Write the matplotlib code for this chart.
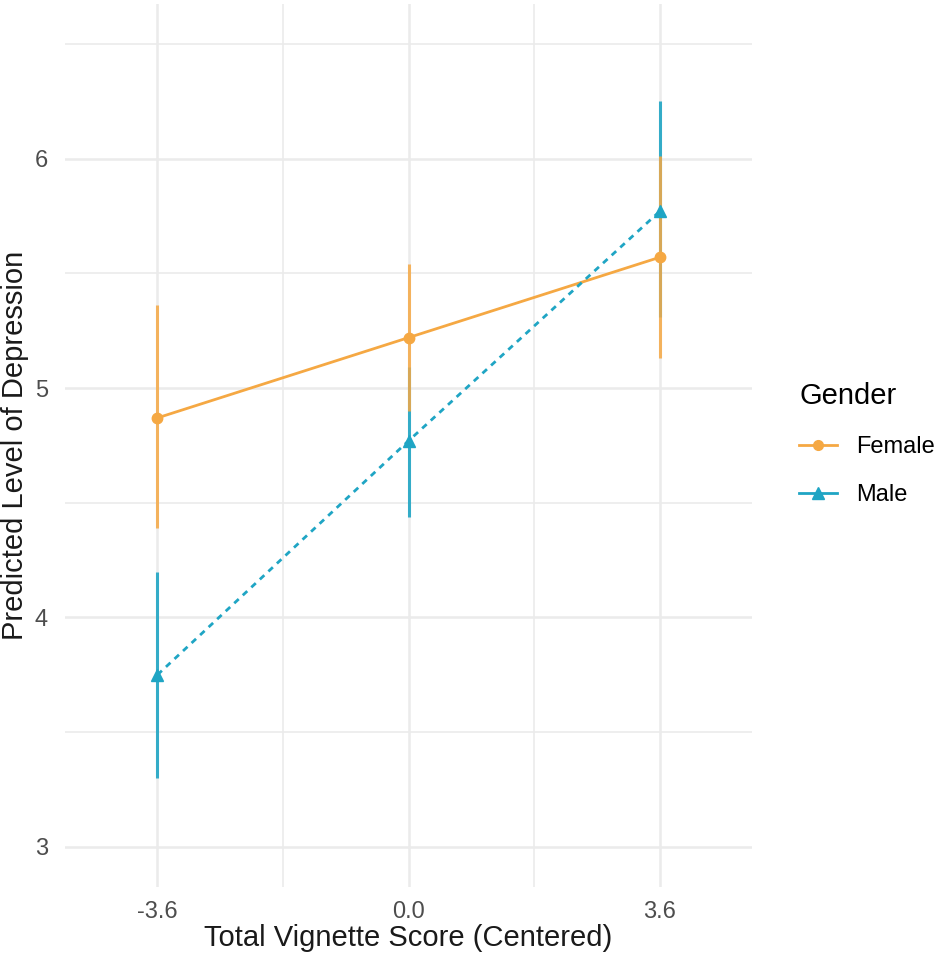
import numpy as np
import matplotlib.pyplot as plt
from matplotlib.lines import Line2D

plt.rcParams['font.family'] = ['Liberation Sans', 'DejaVu Sans']

# data
vignette = [-3.6, 0.0, 3.6]
female_fit = [4.87, 5.22, 5.57]
female_lo = [4.39, 4.90, 5.13]
female_hi = [5.36, 5.54, 6.01]
male_fit = [3.75, 4.77, 5.77]
male_lo = [3.30, 4.44, 5.31]
male_hi = [4.20, 5.09, 6.25]

x_ticks = [-3.6, 0.0, 3.6]
x_tick_labels = ['-3.6', '0.0', '3.6']
y_ticks = [3, 4, 5, 6]

col_f = '#F5A843'
col_m = '#1FA5C4'
grid_col = '#EBEBEB'

fig = plt.figure(figsize=(9.37, 9.61), dpi=100)
ax = fig.add_axes([0.069, 0.077, 0.734, 0.919])

ax.set_xlim(-4.93, 4.93)
ax.set_ylim(2.825, 6.675)

# grid (ggplot minimal style)
for y in y_ticks:
    ax.axhline(y, color=grid_col, lw=1.8, zorder=0)
for y in [3.5, 4.5, 5.5, 6.5]:
    ax.axhline(y, color=grid_col, lw=1.2, zorder=0)
for x in x_ticks:
    ax.axvline(x, color=grid_col, lw=1.8, zorder=0)
for x in [-1.8, 1.8]:
    ax.axvline(x, color=grid_col, lw=1.2, zorder=0)

ax.vlines(vignette, male_lo, male_hi, color=col_m, lw=2.2, alpha=0.9, zorder=2)
ax.vlines(vignette, female_lo, female_hi, color=col_f, lw=2.2, alpha=0.85, zorder=2)
ax.plot(vignette, female_fit, color=col_f, lw=2.0, marker='o', ms=7.5, zorder=3)
ax.plot(vignette, male_fit, color=col_m, lw=2.0, ls=(0, (2.2, 2.0)), marker='^', ms=8.5, zorder=3)

for s in ax.spines.values():
    s.set_visible(False)
ax.tick_params(length=0, labelsize=17, labelcolor='#4D4D4D')
ax.tick_params(axis='x', pad=10)
ax.tick_params(axis='y', pad=12)
ax.set_xticks(x_ticks)
ax.set_xticklabels(x_tick_labels)
ax.set_yticks(y_ticks)
ax.set_xlabel('Total Vignette Score (Centered)', fontsize=21, color='#1A1A1A', labelpad=1)
ax.set_ylabel('Predicted Level of Depression', fontsize=21, color='#1A1A1A', labelpad=4)

handles = [Line2D([], [], color=col_f, lw=2, marker='o', ms=7),
           Line2D([], [], color=col_m, lw=2, marker='^', ms=8)]
leg = fig.legend(handles, ['Female', 'Male'], title='Gender', loc='upper left',
                 bbox_to_anchor=(0.853, 0.602), frameon=False, fontsize=17,
                 title_fontsize=21, handlelength=1.6, labelspacing=1.1,
                 handletextpad=0.8, borderaxespad=0, borderpad=0)
leg._legend_box.align = 'left'

fig.savefig('out.png', dpi=100)
